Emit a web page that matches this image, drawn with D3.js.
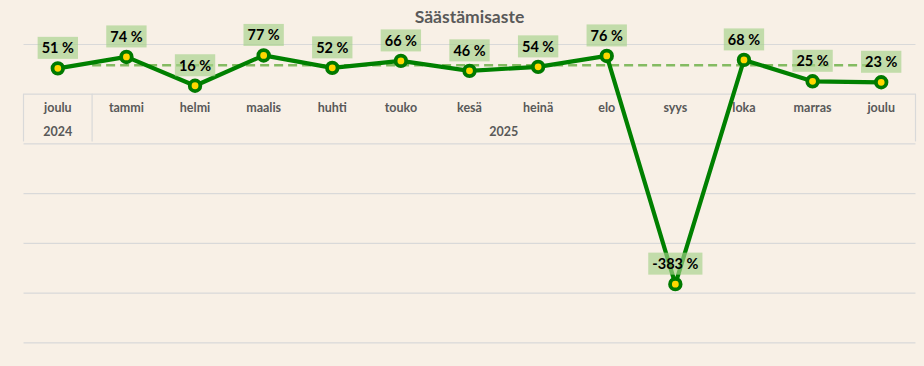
<!DOCTYPE html>
<html>
<head>
<meta charset="utf-8">
<script src="https://cdn.jsdelivr.net/npm/d3@7"></script>
<style>
  html, body { margin: 0; padding: 0; background: #f8f0e6; }
  svg { display: block; font-family: Lato, "Open Sans", sans-serif; }
</style>
</head>
<body>
<svg id="chart" width="924" height="366"></svg>
<script>
// ---- data ----
const title = "Säästämisaste";
const categories = ["joulu", "tammi", "helmi", "maalis", "huhti", "touko", "kesä", "heinä", "elo", "syys", "loka", "marras", "joulu"];
const categoryYears = ["2024", "2025", "2025", "2025", "2025", "2025", "2025", "2025", "2025", "2025", "2025", "2025", "2025"];
const values = [51, 74, 16, 77, 52, 66, 46, 54, 76, -383, 68, 25, 23];
const yTicks = [100, 0, -100, -200, -300, -400, -500];
const referenceLevel = 57.5;
const referenceFrom = 1;   // category index where reference line starts
const referenceTo = 12;    // category index where it ends

// ---- layout ----
const W = 924, H = 366;
const mLeft = 23.5, mRight = 915.5, mTop = 44, mBottom = 342.3;
const svg = d3.select("#chart");
svg.append("rect").attr("width", W).attr("height", H).attr("fill", "#f8f0e6");

const x = d3.scaleBand().domain(d3.range(categories.length)).range([mLeft, mRight]);
const y = d3.scaleLinear().domain([d3.min(yTicks), d3.max(yTicks)]).range([mBottom, mTop]);
const cx = i => x(i) + x.bandwidth() / 2;

// gridlines
const grid = svg.append("g").attr("transform", `translate(${mLeft},0)`)
  .call(d3.axisLeft(y).tickValues(yTicks).tickSize(-(mRight - mLeft)).tickFormat(""));
grid.select(".domain").remove();
grid.selectAll(".tick line").attr("stroke", "#d9d9d9").attr("stroke-width", 1.2);

// category axis box
const y0 = y(0), y1 = y(-100);
const boxG = svg.append("g");
const seps = [0];
for (let i = 1; i < categories.length; i++) if (categoryYears[i] !== categoryYears[i - 1]) seps.push(i);
seps.forEach(i => {
  boxG.append("line").attr("x1", x(i)).attr("x2", x(i)).attr("y1", y0).attr("y2", y1 - 2)
    .attr("stroke", "#d9d9d9").attr("stroke-width", 1.2);
});
boxG.append("line").attr("x1", mRight).attr("x2", mRight).attr("y1", y0).attr("y2", y1 - 2)
  .attr("stroke", "#d9d9d9").attr("stroke-width", 1.2);

const xAxis = svg.append("g").attr("transform", `translate(0,${y0})`)
  .call(d3.axisBottom(x).tickSize(0).tickFormat(i => categories[i]));
xAxis.select(".domain").remove();
xAxis.selectAll("text").attr("dy", 0).attr("y", 18.5)
  .attr("fill", "#595959").attr("font-size", 12.5).attr("font-weight", "bold")
  .attr("font-family", "Lato, 'Open Sans', sans-serif");

// year group labels
const groups = seps.map((s, k) => {
  const e = (k + 1 < seps.length ? seps[k + 1] : categories.length) - 1;
  return { label: categoryYears[s], x: (x(s) + x(e) + x.bandwidth()) / 2 };
});
svg.append("g").selectAll("text").data(groups).join("text")
  .attr("x", d => d.x).attr("y", y0 + 42)
  .attr("text-anchor", "middle").attr("fill", "#595959")
  .attr("font-size", 12.5).attr("font-weight", "bold").text(d => d.label);

// reference dashed line
svg.append("line")
  .attr("x1", x(referenceFrom)).attr("x2", cx(referenceTo))
  .attr("y1", y(referenceLevel)).attr("y2", y(referenceLevel))
  .attr("stroke", "#84bb62").attr("stroke-width", 2.5).attr("stroke-dasharray", "9,5");

// main line
const line = d3.line().x((d, i) => cx(i)).y(d => y(d));
svg.append("path").datum(values).attr("d", line)
  .attr("fill", "none").attr("stroke", "#008000").attr("stroke-width", 4.2)
  .attr("stroke-linejoin", "round");

// markers
svg.append("g").selectAll("circle").data(values).join("circle")
  .attr("cx", (d, i) => cx(i)).attr("cy", d => y(d)).attr("r", 5.3)
  .attr("fill", "#ffd700").attr("stroke", "#007a00").attr("stroke-width", 3.8);

// data labels
const lg = svg.append("g");
values.forEach((v, i) => {
  const g = lg.append("g");
  const ty = y(v) - 20.5;
  const rect = g.append("rect").attr("fill", "rgb(166,210,138)").attr("opacity", 0.66);
  const t = g.append("text").attr("x", cx(i)).attr("y", ty)
    .attr("text-anchor", "middle").attr("dominant-baseline", "central")
    .attr("font-size", 14.5).attr("font-weight", "bold").attr("fill", "#000")
    .text(`${v} %`);
  const bb = t.node().getBBox();
  const w = bb.width + 8;
  rect.attr("x", cx(i) - w / 2).attr("y", ty - 11).attr("width", w).attr("height", 22);
});

// title
svg.append("text").attr("x", 469.5).attr("y", 23)
  .attr("text-anchor", "middle").attr("fill", "#595959")
  .attr("font-size", 17.5).attr("font-weight", "bold").text(title);
</script>
</body>
</html>
